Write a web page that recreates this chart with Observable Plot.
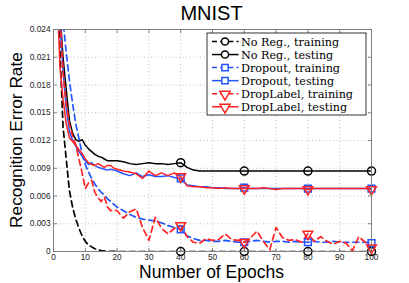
<!DOCTYPE html>
<html><head><meta charset="utf-8">
<script src="https://cdn.jsdelivr.net/npm/d3@7"></script>
<script src="https://cdn.jsdelivr.net/npm/@observablehq/plot@0.6"></script>
<style>body{margin:0;background:#fff}</style>
</head><body><div id="chart"></div>
<script>
const epochs = [1,2,3,4,5,6,7,8,9,10,11,12,13,14,15,16,17,18,19,20,
  22,24,26,28,30,32,34,36,38,40,42,44,46,48,50,52,54,56,58,60,
  62,64,66,68,70,72,74,76,78,80,82,84,86,88,90,92,94,96,98,100];

const noRegTrain = [0.040,0.022,0.0135,0.0100,0.0066,0.0048,0.0035,0.0025,0.0017,0.0011,0.0007,0.0005,0.0003,0.0002,0.0001,0.00006,0.00004,0.00002,0.00001,0,
  0,0,0,0,0,0,0,0,0,0, 0,0,0,0,0,0,0,0,0,0, 0,0,0,0,0,0,0,0,0,0, 0,0,0,0,0,0,0,0,0,0];
const noRegTest = [0.035,0.026,0.021,0.0175,0.0142,0.0128,0.0121,0.0119,0.0121,0.0115,0.0111,0.0108,0.0105,0.0103,0.0102,0.0100,0.0098,0.0098,0.0098,0.0098,
  0.0097,0.0095,0.0094,0.0095,0.0096,0.0095,0.0095,0.0094,0.0095,0.0096,0.0091,0.0088,0.0087,0.0087,0.0087,0.0087,0.0087,0.0087,0.0087,0.0087,
  0.0087,0.0087,0.0087,0.0087,0.0087,0.0087,0.0087,0.0087,0.0087,0.0087,0.0087,0.0087,0.0087,0.0087,0.0087,0.0087,0.0087,0.0087,0.0087,0.0087];
const dropoutTrain = [0.045,0.032,0.025,0.0215,0.0185,0.0160,0.0138,0.0122,0.0106,0.0094,0.0086,0.0079,0.0073,0.0068,0.0064,0.0061,0.0057,0.0054,0.0051,0.0048,
  0.0044,0.0040,0.0037,0.0035,0.0034,0.0033,0.0031,0.0028,0.0026,0.0024,0.0017,0.0014,0.0012,0.0012,0.0011,0.0011,0.0012,0.0011,0.0010,0.0010,
  0.0011,0.0012,0.0011,0.0010,0.0011,0.0011,0.0010,0.0011,0.0010,0.0010,0.0011,0.0010,0.0010,0.0011,0.0010,0.0010,0.0010,0.0010,0.0010,0.0009];
const dropoutTest = [0.035,0.025,0.0195,0.0155,0.0130,0.0120,0.0114,0.0108,0.0103,0.0098,0.0094,0.0096,0.0093,0.0091,0.0090,0.0089,0.0088,0.0089,0.0088,0.0087,
  0.0084,0.0082,0.0085,0.0081,0.0083,0.0081,0.0081,0.0082,0.0080,0.0079,0.0072,0.0071,0.0070,0.0070,0.0069,0.0069,0.0068,0.0068,0.0068,0.0069,
  0.0068,0.0068,0.0068,0.0068,0.0068,0.0068,0.0068,0.0068,0.0068,0.0068,0.0068,0.0068,0.0068,0.0068,0.0068,0.0068,0.0068,0.0068,0.0068,0.0068];
const dropLabelTrain = [0.040,0.026,0.0195,0.0160,0.0138,0.0125,0.0115,0.0100,0.0085,0.0068,0.0074,0.0077,0.0064,0.0058,0.0054,0.0059,0.0048,0.0044,0.0045,0.0044,
  0.0036,0.0043,0.0046,0.0026,0.0012,0.0037,0.0025,0.0019,0.0025,0.0028,0.0016,0.0010,0.0009,0.0014,0.0012,0.0013,0.0019,0.0013,0.0012,0.0010,
  0.0015,0.0022,0.0011,0.0002,0.0026,0.0015,0.0012,0.0013,0.0010,0.0019,0.0011,0.0016,0.0011,0.0008,0.0011,0.0009,0.0001,0.0016,0.0010,0.0004];
const dropLabelTest = [0.030,0.020,0.0165,0.0138,0.0123,0.0119,0.0115,0.0110,0.0106,0.0100,0.0096,0.0094,0.0093,0.0095,0.0093,0.0091,0.0093,0.0093,0.0090,0.0089,
  0.0087,0.0086,0.0084,0.0079,0.0087,0.0082,0.0085,0.0082,0.0085,0.0081,0.0071,0.0070,0.0070,0.0069,0.0069,0.0068,0.0069,0.0068,0.0068,0.0068,
  0.0068,0.0068,0.0069,0.0068,0.0067,0.0068,0.0068,0.0068,0.0068,0.0067,0.0068,0.0068,0.0068,0.0068,0.0068,0.0068,0.0068,0.0068,0.0068,0.0067];

const seriesNames = ["No Reg., training","No Reg., testing","Dropout, training","Dropout, testing","DropLabel, training","DropLabel, testing"];
const seriesValues = [noRegTrain,noRegTest,dropoutTrain,dropoutTest,dropLabelTrain,dropLabelTest];
const seriesColors = ["#000000","#000000","#2255ff","#2255ff","#ff2222","#ff2222"];
const seriesDash = ["6,4",null,"6,4",null,"6,4",null];
const seriesSymbols = ["circle","circle","square","square","triangle","triangle"];
const markerEpochs = [40,60,80,100];
const xTicks = [0,10,20,30,40,50,60,70,80,90,100];
const yTicks = [0,0.003,0.006,0.009,0.012,0.015,0.018,0.021,0.024];

const series = seriesNames.map((name,k) => ({
  name, color: seriesColors[k], dash: seriesDash[k], symbol: seriesSymbols[k],
  data: epochs.map((e,i) => ({epoch: e, value: seriesValues[k][i]}))
}));

const tickShape = {draw(context, l) { context.moveTo(0, 0); context.lineTo(0, -l); }};
const tickStyle = {shape: tickShape, length: 3, anchor: "start", stroke: "#666", strokeWidth: 0.8};

const marks = [
  Plot.gridX(xTicks, {stroke: "#999", strokeOpacity: 0.9, strokeDasharray: "1,2.5", strokeWidth: 0.7}),
  Plot.gridY(yTicks, {stroke: "#999", strokeOpacity: 0.9, strokeDasharray: "1,2.5", strokeWidth: 0.7}),
  Plot.vector(xTicks, {x: d => d, frameAnchor: "bottom", rotate: 0, ...tickStyle}),
  Plot.vector(xTicks, {x: d => d, frameAnchor: "top", rotate: 180, ...tickStyle}),
  Plot.vector(yTicks, {y: d => d, frameAnchor: "left", rotate: 90, ...tickStyle}),
  Plot.vector(yTicks, {y: d => d, frameAnchor: "right", rotate: -90, ...tickStyle}),
  Plot.axisX(xTicks, {tickSize: 0, tickPadding: 3, label: null, fill: "#222"}),
  Plot.axisY(yTicks, {tickSize: 0, tickPadding: 3, label: null, fill: "#222",
    tickFormat: d => d === 0 ? "0" : d.toFixed(3)}),
];
for (const s of series) {
  marks.push(Plot.line(s.data, {x: "epoch", y: "value", stroke: s.color, strokeWidth: s.dash ? 1.7 : 1.5,
    strokeDasharray: s.dash, clip: true}));
}
for (const s of series) {
  marks.push(Plot.dot(s.data.filter(d => markerEpochs.includes(d.epoch)), {x: "epoch", y: "value",
    symbol: () => s.symbol, r: s.symbol === "triangle" ? 3.6 : (s.symbol === "square" ? 3.8 : 4),
    rotate: s.symbol === "triangle" ? 180 : 0, stroke: s.color, fill: "none", strokeWidth: 1.5}));
}
marks.push(Plot.frame({stroke: "#777", strokeWidth: 0.9}));

const svg = Plot.plot({
  width: 409, height: 283,
  marginLeft: 53, marginRight: 38, marginTop: 29, marginBottom: 32,
  style: {fontFamily: "'Liberation Sans', Arial, sans-serif", fontSize: "8.3px", background: "#fff"},
  x: {domain: [0, 100]},
  y: {domain: [0, 0.024]},
  symbol: {type: "identity"},
  marks
});

const root = d3.select(svg);
const sans = "'Liberation Sans', Arial, sans-serif";
root.append("text").attr("x", 211.5).attr("y", 19.5).attr("text-anchor", "middle")
  .attr("font-family", sans).attr("font-size", 20).attr("fill", "#000").text("MNIST");
root.append("text").attr("x", 211.5).attr("y", 277.5).attr("text-anchor", "middle")
  .attr("font-family", sans).attr("font-size", 17.5).attr("fill", "#000").text("Number of Epochs");
root.append("text").attr("transform", "translate(22,140) rotate(-90)").attr("text-anchor", "middle")
  .attr("font-family", sans).attr("font-size", 17.3).attr("fill", "#000").text("Recognition Error Rate");

// legend
const lg = root.append("g");
lg.append("rect").attr("x", 207).attr("y", 33).attr("width", 159).attr("height", 82)
  .attr("fill", "#fff").attr("stroke", "#000").attr("stroke-width", 0.8);
series.forEach((s, i) => {
  const cy = 41.5 + i * 13.05;
  lg.append("line").attr("x1", 212).attr("x2", 238.5).attr("y1", cy).attr("y2", cy)
    .attr("stroke", s.color).attr("stroke-width", 1.5).attr("stroke-dasharray", s.dash ? "5,3.2" : null);
  const sym = s.symbol === "circle" ? d3.symbolCircle : s.symbol === "square" ? d3.symbolSquare : d3.symbolTriangle;
  const size = s.symbol === "triangle" ? 45 : 40;
  lg.append("path").attr("d", d3.symbol(sym, size)())
    .attr("transform", `translate(225,${cy + (s.symbol === "triangle" ? 0.5 : 0)}) rotate(${s.symbol === "triangle" ? 180 : 0})`)
    .attr("fill", "#fff").attr("stroke", s.color).attr("stroke-width", 1.5);
  lg.append("text").attr("x", 241).attr("y", cy + 4).attr("text-anchor", "start")
    .attr("font-family", "'DejaVu Serif', 'Liberation Serif', serif").attr("font-size", 11.2)
    .attr("fill", "#000").text(s.name);
});

document.getElementById("chart").appendChild(svg);
</script>
</body></html>
